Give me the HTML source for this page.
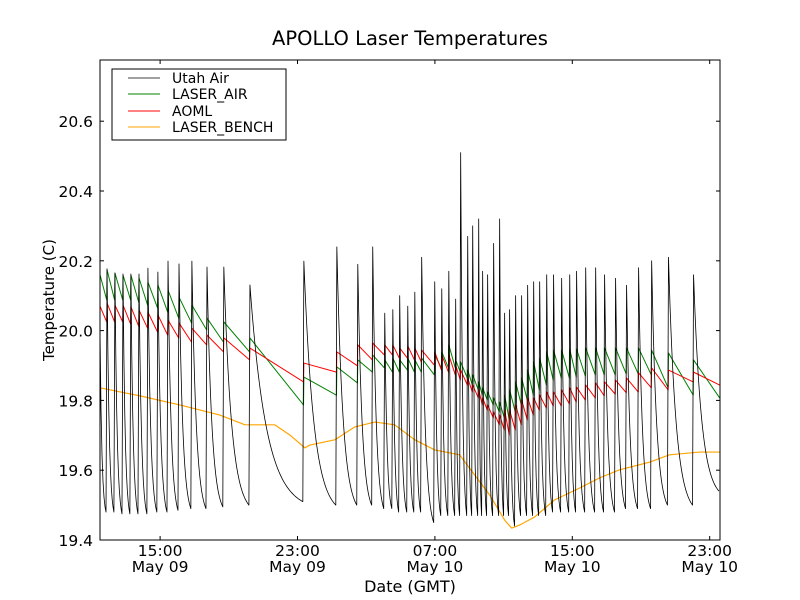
<!DOCTYPE html>
<html><head><meta charset="utf-8"><title>APOLLO Laser Temperatures</title>
<style>body{margin:0;background:#fff}svg{display:block;font-family:"DejaVu Sans","Liberation Sans",sans-serif}</style></head>
<body>
<svg id="chart" width="800" height="600" viewBox="0 0 800 600">
<rect width="800" height="600" fill="#fff"/>
<text x="410" y="45" text-anchor="middle" font-size="19.5">APOLLO Laser Temperatures</text>
<text x="0" y="0" transform="translate(54,300) rotate(-90)" text-anchor="middle" font-size="15">Temperature (C)</text>
<text x="410" y="592" text-anchor="middle" font-size="16">Date (GMT)</text>
<g id="series"></g>
<g id="axes"></g>
<g>
<rect x="112" y="69" width="174" height="71" fill="#fff" stroke="#000" stroke-width="1"/>
<line x1="128" y1="78" x2="160" y2="78" stroke="#000" stroke-width="0.7"/>
<text x="172" y="83" font-size="14">Utah Air</text>
<line x1="128" y1="94" x2="160" y2="94" stroke="#008000" stroke-width="1"/>
<text x="172" y="99" font-size="14">LASER_AIR</text>
<line x1="128" y1="111" x2="160" y2="111" stroke="#ff0000" stroke-width="1"/>
<text x="172" y="116" font-size="14">AOML</text>
<line x1="128" y1="127" x2="160" y2="127" stroke="#ffa500" stroke-width="1"/>
<text x="172" y="132" font-size="14">LASER_BENCH</text>
</g>
</svg>
<script>
// hours since May 09 00:00 GMT
const spikeTimes=[11.91,12.37,12.84,13.30,13.77,14.29,14.87,15.46,16.10,16.85,17.73,18.71,20.23,23.37,25.29,26.51,27.38,28.08,28.55,28.95,29.42,29.83,30.23,30.99,31.40,31.81,32.21,32.50,32.91,33.20,33.55,33.78,34.07,34.42,34.77,35.06,35.35,35.70,36.05,36.40,36.75,37.10,37.51,37.91,38.38,38.85,39.25,39.78,40.36,40.88,41.52,42.16,42.86,43.62,44.60,46.06];
const utahPeaks=[20.177,20.165,20.162,20.162,20.162,20.179,20.168,20.199,20.191,20.199,20.182,20.182,20.131,20.199,20.24,20.19,20.24,20.05,20.06,20.10,20.07,20.11,20.21,20.14,20.12,20.17,20.09,20.51,20.27,20.30,20.32,20.17,20.16,20.25,20.32,20.05,20.06,20.10,20.10,20.13,20.14,20.14,20.16,20.16,20.15,20.16,20.17,20.18,20.18,20.16,20.15,20.13,20.18,20.20,20.21,20.16];
const utahTroughs=[19.48,19.475,19.475,19.475,19.475,19.48,19.48,19.485,19.49,19.49,19.495,19.50,19.51,19.50,19.50,19.50,19.49,19.49,19.48,19.48,19.48,19.48,19.45,19.47,19.47,19.47,19.47,19.47,19.47,19.47,19.47,19.47,19.47,19.47,19.47,19.47,19.44,19.47,19.47,19.47,19.47,19.47,19.48,19.48,19.48,19.48,19.48,19.48,19.48,19.48,19.49,19.49,19.49,19.50,19.50,19.54];
const utahStart=20.0;
const greenHigh=[20.174,20.165,20.159,20.159,20.151,20.139,20.131,20.116,20.096,20.073,20.036,20.025,19.979,19.867,19.896,19.916,19.930,19.916,19.921,19.916,19.921,19.916,19.921,19.930,19.939,19.959,19.916,19.910,19.887,19.873,19.853,19.836,19.824,19.807,19.795,19.815,19.830,19.853,19.864,19.887,19.910,19.921,19.939,19.944,19.944,19.947,19.947,19.950,19.950,19.950,19.950,19.950,19.950,19.944,19.936,19.916];
const greenLow=[20.088,20.088,20.088,20.082,20.073,20.065,20.053,20.036,20.022,20.002,19.967,19.939,19.787,19.815,19.850,19.881,19.893,19.881,19.881,19.887,19.881,19.881,19.873,19.893,19.893,19.893,19.881,19.864,19.844,19.830,19.815,19.801,19.787,19.767,19.750,19.744,19.767,19.787,19.801,19.815,19.830,19.844,19.858,19.864,19.864,19.867,19.870,19.873,19.873,19.873,19.876,19.876,19.873,19.836,19.815,19.807];
const greenStart=20.16;
const redHigh=[20.079,20.073,20.073,20.068,20.059,20.053,20.045,20.030,20.022,20.007,19.987,19.979,19.950,19.907,19.939,19.959,19.964,19.959,19.959,19.950,19.956,19.950,19.944,19.939,19.930,19.930,19.901,19.887,19.864,19.844,19.830,19.807,19.787,19.767,19.758,19.772,19.772,19.787,19.801,19.807,19.807,19.815,19.824,19.824,19.830,19.836,19.838,19.844,19.850,19.853,19.858,19.864,19.879,19.893,19.887,19.881];
const redLow=[20.025,20.025,20.019,20.013,20.007,19.996,19.987,19.979,19.967,19.959,19.939,19.916,19.853,19.881,19.899,19.916,19.930,19.930,19.921,19.921,19.916,19.910,19.901,19.887,19.881,19.873,19.858,19.844,19.824,19.807,19.787,19.772,19.750,19.730,19.715,19.701,19.715,19.730,19.744,19.758,19.772,19.778,19.784,19.784,19.790,19.795,19.801,19.807,19.813,19.818,19.822,19.824,19.836,19.830,19.853,19.844];
const redStart=20.07;
const benchTimes=[11.5,13.83,16.15,18.48,19.94,21.68,22.55,23.43,23.72,25.17,26.34,27.50,28.66,29.83,30.99,32.44,33.32,34.19,35.06,35.47,35.94,36.81,37.97,39.43,40.59,41.75,43.50,44.66,46.41,47.57];
const benchValues=[19.836,19.813,19.787,19.758,19.730,19.730,19.701,19.664,19.672,19.687,19.724,19.738,19.730,19.687,19.658,19.644,19.586,19.529,19.457,19.434,19.443,19.466,19.515,19.549,19.578,19.601,19.623,19.644,19.652,19.652];
const yTickValues=[19.4,19.6,19.8,20.0,20.2,20.4,20.6];
const yTickLabels=["19.4","19.6","19.8","20.0","20.2","20.4","20.6"];
const xTickValues=[15,23,31,39,47];
const xTickTimes=["15:00","23:00","07:00","15:00","23:00"];
const xTickDates=["May 09","May 09","May 10","May 10","May 10"];

const X0=100,X1=720,Y0=540,Y1=60,XMIN=11.5,XMAX=47.6,YMIN=19.4,YMAX=19.4+480/349;
function xs(t){return X0+(t-XMIN)/(XMAX-XMIN)*(X1-X0);}
function ys(v){return Y0-(v-YMIN)/(YMAX-YMIN)*(Y0-Y1);}
const NS="http://www.w3.org/2000/svg";
const series=document.getElementById('series');
const axes=document.getElementById('axes');
function pathFrom(pts,color,w,name){
  const p=document.createElementNS(NS,'path');
  p.setAttribute('d','M'+pts.map(q=>xs(q[0]).toFixed(2)+','+ys(q[1]).toFixed(2)).join('L'));
  p.setAttribute('fill','none');p.setAttribute('stroke',color);p.setAttribute('stroke-width',w);
  p.setAttribute('stroke-linejoin','round');
  
  
  series.appendChild(p);
}
function nextT(i){return i+1<spikeTimes.length?spikeTimes[i+1]:XMAX;}
pathFrom(benchTimes.map((t,i)=>[t,benchValues[i]]),'#ffa500',1.2,'laser-bench-line');
function saw(start,hi,lo){
  const pts=[[XMIN,start],[spikeTimes[0]-0.02,lo[0]]];
  for(let i=0;i<spikeTimes.length;i++){
    const t0=spikeTimes[i],t1=nextT(i);
    pts.push([t0,hi[i]]);
    pts.push([t1-0.02,lo[i]]);
  }
  return pts;
}
pathFrom(saw(greenStart,greenHigh,greenLow),'#008000',1,'laser-air-line');
pathFrom(saw(redStart,redHigh,redLow),'#ff0000',1,'aoml-line');
(function(){
  const pts=[[XMIN,utahStart]];
  const k=3.2,ek=Math.exp(-k);
  for(let i=0;i<spikeTimes.length;i++){
    const t0=spikeTimes[i],t1=nextT(i),pk=utahPeaks[i],tr=utahTroughs[i];
    const prev=i===0?utahTroughs[0]:utahTroughs[i-1];
    if(i===0){
      for(let s=1;s<=6;s++){const f=s/6;pts.push([XMIN+(t0-0.06-XMIN)*f,prev+(utahStart-prev)*(Math.exp(-k*f)-ek)/(1-ek)]);}
    }
    pts.push([t0,pk]);
    const span=(t1-0.06)-t0;
    const n=Math.max(6,Math.round(span*20));
    for(let s=1;s<=n;s++){const f=s/n;pts.push([t0+span*f,tr+(pk-tr)*(Math.exp(-k*f)-ek)/(1-ek)]);}
  }
  pathFrom(pts,'#000',0.8,'utah-air-line');
})();
const frame=document.createElementNS(NS,'rect');
frame.setAttribute('x',X0);frame.setAttribute('y',Y1);frame.setAttribute('width',X1-X0);frame.setAttribute('height',Y0-Y1);
frame.setAttribute('fill','none');frame.setAttribute('stroke','#000');frame.setAttribute('stroke-width','1');


axes.appendChild(frame);
function line(x1,y1,x2,y2,name){const l=document.createElementNS(NS,'line');l.setAttribute('x1',x1);l.setAttribute('y1',y1);l.setAttribute('x2',x2);l.setAttribute('y2',y2);l.setAttribute('stroke','#000');l.setAttribute('stroke-width','1');


axes.appendChild(l);}
function text(x,y,s,anchor,name){const t=document.createElementNS(NS,'text');t.setAttribute('x',x);t.setAttribute('y',y);t.setAttribute('text-anchor',anchor);t.setAttribute('font-size','15.5');t.textContent=s;


axes.appendChild(t);}
yTickValues.forEach((v,i)=>{const y=ys(v);line(X0,y,X0+4,y,'y-tick');line(X1-4,y,X1,y,'y-tick-right');text(93,y+6,yTickLabels[i],'end','y-tick-label');});
xTickValues.forEach((t,i)=>{const x=xs(t);line(x,Y0,x,Y0-4,'x-tick');line(x,Y1,x,Y1+4,'x-tick-top');text(x,556,xTickTimes[i],'middle','x-tick-label-time');text(x,572,xTickDates[i],'middle','x-tick-label-date');});
</script>
</body></html>
